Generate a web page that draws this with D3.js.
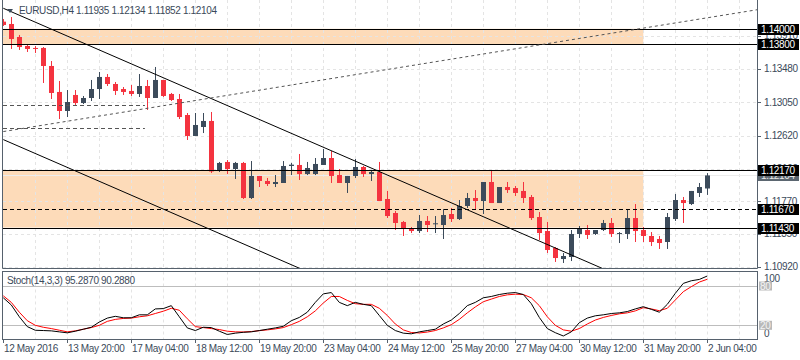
<!DOCTYPE html>
<html><head><meta charset="utf-8">
<script src="https://cdn.jsdelivr.net/npm/d3@7"></script>
<style>
body{margin:0;background:#fff}
svg{display:block}
text{font-family:"Liberation Sans",Arial,sans-serif;font-size:10px;letter-spacing:-0.35px}
</style>
</head><body><svg id="c" width="800" height="360"></svg>
<script>
// ---------------- data ----------------
const symbolTitle = "EURUSD,H4";
const opens = [1.14092,1.14062,1.13894,1.13777,1.13752,1.13752,1.13519,1.13183,1.12937,1.13144,
1.13040,1.13105,1.13221,1.13377,1.13286,1.13221,1.13196,1.13157,1.13260,1.13105,
1.13338,1.13157,1.13092,1.12885,1.12614,1.12730,1.12808,1.12161,1.12278,1.12187,
1.12265,1.11812,1.12097,1.12032,1.11993,1.12006,1.12226,1.12239,1.12122,1.12122,
1.12239,1.12329,1.12109,1.12006,1.12097,1.12213,1.12122,1.12148,1.11799,1.11618,
1.11502,1.11411,1.11385,1.11515,1.11476,1.11463,1.11605,1.11540,1.11709,1.11812,
1.11773,1.12019,1.11747,1.11954,1.11941,1.11903,1.11825,1.11566,1.11385,1.11166,
1.11023,1.11049,1.11347,1.11398,1.11347,1.11398,1.11489,1.11347,1.11347,1.11553,
1.11398,1.11321,1.11282,1.11243,1.11540,1.11786,1.11734,1.11877,1.11935];
const highs = [1.14126,1.14152,1.13920,1.13790,1.13777,1.13764,1.13583,1.13325,1.13208,1.13208,
1.13131,1.13338,1.13441,1.13415,1.13312,1.13247,1.13273,1.13415,1.13338,1.13506,
1.13338,1.13170,1.13157,1.12911,1.12911,1.12911,1.12924,1.12278,1.12303,1.12278,
1.12278,1.12290,1.12097,1.12071,1.12109,1.12290,1.12265,1.12381,1.12278,1.12329,
1.12446,1.12420,1.12187,1.12097,1.12316,1.12226,1.12161,1.12278,1.11903,1.11644,
1.11515,1.11437,1.11592,1.11579,1.11579,1.11670,1.11683,1.11786,1.11877,1.11915,
1.12019,1.12174,1.11954,1.12019,1.11967,1.12019,1.11851,1.11631,1.11502,1.11178,
1.11101,1.11398,1.11450,1.11463,1.11398,1.11528,1.11553,1.11372,1.11657,1.11734,
1.11437,1.11372,1.11321,1.11618,1.11864,1.11825,1.11903,1.12006,1.12134];
const lows = [1.14036,1.13739,1.13726,1.13700,1.13687,1.13299,1.13092,1.12833,1.12859,1.13015,
1.13027,1.13066,1.13092,1.13260,1.13144,1.13144,1.13131,1.13118,1.12950,1.13105,
1.13118,1.13066,1.12833,1.12562,1.12614,1.12652,1.12135,1.12148,1.12122,1.12058,
1.11799,1.11799,1.11954,1.11967,1.11954,1.12006,1.12109,1.12045,1.12109,1.12109,
1.12239,1.12006,1.12006,1.11877,1.12071,1.12084,1.12032,1.11773,1.11553,1.11398,
1.11321,1.11359,1.11359,1.11372,1.11359,1.11282,1.11502,1.11528,1.11683,1.11657,
1.11605,1.11747,1.11747,1.11877,1.11838,1.11747,1.11528,1.11269,1.11101,1.10985,
1.10972,1.10997,1.11295,1.11282,1.11334,1.11385,1.11308,1.11230,1.11282,1.11243,
1.11243,1.11191,1.11153,1.11153,1.11515,1.11489,1.11721,1.11825,1.11852];
const closes = [1.14049,1.13868,1.13764,1.13739,1.13745,1.13519,1.13170,1.12937,1.13053,1.13040,
1.13105,1.13221,1.13377,1.13286,1.13196,1.13183,1.13157,1.13260,1.13105,1.13338,
1.13131,1.13079,1.12859,1.12614,1.12756,1.12808,1.12155,1.12265,1.12187,1.12265,
1.11812,1.12097,1.12032,1.11993,1.12019,1.12226,1.12243,1.12122,1.12200,1.12252,
1.12329,1.12097,1.12006,1.12097,1.12213,1.12122,1.12148,1.11773,1.11579,1.11489,
1.11411,1.11385,1.11515,1.11463,1.11485,1.11592,1.11540,1.11709,1.11812,1.11773,
1.12019,1.11747,1.11954,1.11915,1.11877,1.11812,1.11553,1.11359,1.11140,1.11036,
1.11062,1.11347,1.11411,1.11334,1.11398,1.11489,1.11347,1.11359,1.11553,1.11385,
1.11321,1.11243,1.11230,1.11566,1.11786,1.11747,1.11903,1.11954,1.12104];
const stochK = [62,51,33,18,12.4,12,11.5,10,8.5,11,
14,17,25,31,33.7,31.5,31.5,36,36,45,
45.5,50,33,16,12,17,16.5,11,6,8,
9.3,10,12,14,16,18.5,27,32,40,55,
68,70,55,50,55,52,50,35,20,12,
8,7,10,12,14,22,28,38,50,55,
62,64,67,69,70,67,53,32,15,8.7,
3.7,10,24,31,34.5,36,38,39,41,45,
48.4,44.4,40,52,68.8,84,88,90,95.287];
const stochD = [65,55,40,27,20,17,15,12.5,10,11.5,
14,16.5,20,26,29,30.5,31,33,34.5,38,
41.5,46,43,30,18,16.5,15,13.5,11,10,
9.8,10.5,11.8,13,14.5,16.5,21,26,33,42,
54,64,64,58,53,52,52,46,35,22,
13,9,8.3,9.7,12,16,21,29,39,48,
56,60,64,66.5,67.5,67,62,50,33,20,
13,11,15,22,28,32,35,37.5,39,42,
46.9,45,42.3,46,58.6,71.3,79,86,90.288];
const xTickLabels = ["12 May 2016","13 May 20:00","17 May 04:00","18 May 12:00","19 May 20:00","23 May 04:00","24 May 12:00","25 May 20:00","27 May 04:00","30 May 12:00","31 May 20:00","2 Jun 04:00"];
const xTickBars = [0,8,16,24,32,40,48,56,64,72,80,88];
const priceTicks = [1.13910,1.13480,1.13050,1.12620,1.12190,1.11770,1.11350,1.10920];
const zoneTops = [1.14000,1.12170];
const zoneBottoms = [1.13800,1.11430];
const zoneEndBar = 80;
const midLevel = 1.11670;
const bidPrice = 1.12104;
const stochLevels = [80,20];
const stochEdgeLabels = [100,0];
// trend lines as [bar, price] anchors
const channelUpper = [[0,1.14265],[69.375,1.11149]];
const channelLower = [[0,1.12567],[69.375,1.09450]];
const risingLine = [[0,1.12671],[88,1.14142]];
const shortLevels = [1.13015,1.12717];
const shortLevelEndBar = 17.7;

// ---------------- layout ----------------
const L = 3, R = 757, mainTop = 0, mainBot = 268, stTop = 271.5, stBot = 339;
const svg = d3.select("#c");
const x = d3.scaleLinear().domain([0, 88]).range([3.3, 707.3]);
const y = d3.scaleLinear().domain([1.10907, 1.14372]).range([mainBot, mainTop]);
const ys = d3.scaleLinear().domain([0, 100]).range([338.4, 272.9]);
const bull = "#3c4b5b", bear = "#f4333f", fillZone = "#fddbb9", gridC = "#e4e4e4", axisC = "#56616d", txtC = "#3b4a5a";

const defs = svg.append("defs");
defs.append("clipPath").attr("id","cm").append("rect").attr("x",L).attr("y",mainTop).attr("width",R-L).attr("height",mainBot-mainTop);
defs.append("clipPath").attr("id","cs").append("rect").attr("x",L).attr("y",stTop).attr("width",R-L).attr("height",stBot-stTop);

const gm = svg.append("g").attr("clip-path","url(#cm)");
const gs = svg.append("g").attr("clip-path","url(#cs)");

// zones
zoneTops.forEach((t,i)=>{
  gm.append("rect").attr("x",L).attr("width",x(zoneEndBar)-L)
    .attr("y",y(t)).attr("height",y(zoneBottoms[i])-y(t)).attr("fill",fillZone);
});

// grid
const vBars = d3.range(4, 94, 4);
const sn = v => Math.round(v)+0.5;
gm.selectAll(".hg").data(priceTicks).enter().append("line")
  .attr("x1",L).attr("x2",R).attr("y1",d=>sn(y(d))).attr("y2",d=>sn(y(d)))
  .attr("stroke",gridC).attr("stroke-dasharray","3,3");
gm.selectAll(".vg").data(vBars).enter().append("line")
  .attr("x1",d=>sn(x(d))).attr("x2",d=>sn(x(d))).attr("y1",mainTop).attr("y2",mainBot)
  .attr("stroke",gridC).attr("stroke-dasharray","3,3");
gs.selectAll(".vg").data(vBars).enter().append("line")
  .attr("x1",d=>sn(x(d))).attr("x2",d=>sn(x(d))).attr("y1",stTop).attr("y2",stBot)
  .attr("stroke",gridC).attr("stroke-dasharray","3,3");

// bid line
gm.append("line").attr("x1",L).attr("x2",R).attr("y1",sn(y(bidPrice))).attr("y2",sn(y(bidPrice)))
  .attr("stroke","#ececec");

// candles
const idx = d3.range(opens.length);
const cg = gm.append("g");
cg.selectAll(".w").data(idx).enter().append("line")
  .attr("x1",i=>sn(x(i))).attr("x2",i=>sn(x(i)))
  .attr("y1",i=>y(highs[i])).attr("y2",i=>y(lows[i]))
  .attr("stroke",i=>closes[i]>=opens[i]?bull:bear);
cg.selectAll(".b").data(idx).enter().append("rect")
  .attr("x",i=>Math.round(x(i))-2).attr("width",5)
  .attr("y",i=>y(Math.max(opens[i],closes[i])))
  .attr("height",i=>Math.max(1,Math.abs(y(opens[i])-y(closes[i]))))
  .attr("fill",i=>closes[i]>=opens[i]?bull:bear);

// horizontal level lines
zoneTops.concat(zoneBottoms).forEach(p=>{
  gm.append("line").attr("x1",L).attr("x2",R).attr("y1",sn(y(p))).attr("y2",sn(y(p)))
    .attr("stroke","#000").attr("stroke-width",1);
});
gm.append("line").attr("x1",L).attr("x2",R).attr("y1",sn(y(midLevel))).attr("y2",sn(y(midLevel)))
  .attr("stroke","#000").attr("stroke-dasharray","4,3");
shortLevels.forEach(p=>{
  gm.append("line").attr("x1",L).attr("x2",x(shortLevelEndBar)).attr("y1",sn(y(p))).attr("y2",sn(y(p)))
    .attr("stroke","#555").attr("stroke-dasharray","4,3");
});

// trend lines (extended as rays)
function ray(pts, dash, col){
  const [a,b] = pts;
  const x1 = x(a[0]), y1 = y(a[1]), x2 = x(b[0]), y2 = y(b[1]);
  const s = (y2-y1)/(x2-x1);
  const xe = R;
  gm.append("line").attr("x1",x1).attr("y1",y1).attr("x2",xe).attr("y2",y1+s*(xe-x1))
    .attr("stroke",col).attr("stroke-width",1).attr("stroke-dasharray",dash);
}
ray(channelUpper,null,"#000");
ray(channelLower,null,"#000");
ray(risingLine,"3,3","#555");

// stochastic
stochLevels.forEach(v=>{
  gs.append("line").attr("x1",L).attr("x2",R).attr("y1",sn(ys(v))).attr("y2",sn(ys(v))).attr("stroke","#bdbdbd");
});
const ln = d3.line().x((d,i)=>x(i)).y(d=>ys(d));
gs.append("path").attr("d",ln(stochD)).attr("fill","none").attr("stroke","#ff0000").attr("stroke-width",1);
gs.append("path").attr("d",ln(stochK)).attr("fill","none").attr("stroke","#000").attr("stroke-width",1);

// frames
svg.append("path").attr("d",`M${L-0.5},${mainTop}V${mainBot+0.5}H${R+0.5}V${mainTop}`).attr("fill","none").attr("stroke",axisC);
svg.append("rect").attr("x",L-0.5).attr("y",stTop).attr("width",R-L+1).attr("height",stBot-stTop+0.5).attr("fill","none").attr("stroke",axisC);

// right price axis
const ax = svg.append("g");
ax.selectAll(".pt").data(priceTicks).enter().append("line")
  .attr("x1",R+1).attr("x2",R+4).attr("y1",d=>sn(y(d))).attr("y2",d=>sn(y(d))).attr("stroke",axisC);
ax.selectAll(".pl").data(priceTicks).enter().append("text")
  .attr("x",R+7).attr("y",d=>y(d)+3.5).attr("fill",txtC).text(d=>d.toFixed(5));
function box(p, bg, fg){
  const yy = y(p);
  ax.append("rect").attr("x",R+1).attr("y",Math.round(yy)-5).attr("width",41).attr("height",11).attr("fill",bg);
  ax.append("text").attr("x",R+4).attr("y",Math.round(yy)+4).attr("fill",fg).text(p.toFixed(5));
}
box(bidPrice,"#5b6670","#e8e8e8");
[zoneTops[0],zoneBottoms[0],zoneTops[1],midLevel,zoneBottoms[1]].forEach(p=>box(p,"#000","#fff"));

// stoch axis labels
stochEdgeLabels.forEach(v=>{
  svg.append("text").attr("x",R+7).attr("y",v===100?282:337).attr("fill",txtC).text(v);
});
stochLevels.forEach(v=>{
  svg.append("rect").attr("x",R+2).attr("y",ys(v)-4.5).attr("width",13).attr("height",9).attr("fill","#b9b9b9");
  svg.append("text").attr("x",R+3).attr("y",ys(v)+3.5).attr("fill","#f4f4f4").text(v);
});

// x axis
const xa = svg.append("g");
xa.selectAll(".xt").data(xTickBars).enter().append("line")
  .attr("x1",d=>sn(x(d))).attr("x2",d=>sn(x(d))).attr("y1",stBot).attr("y2",stBot+4).attr("stroke",axisC);
xa.selectAll(".xl").data(xTickLabels).enter().append("text")
  .attr("x",(d,i)=>Math.round(x(xTickBars[i]))+1).attr("y",352).attr("fill",txtC).text(d=>d);

// titles
svg.append("path").attr("d","M7,9 L13,9 L10,13 Z").attr("fill","#3b4a5a");
svg.append("text").attr("x",19).attr("y",14).attr("fill",txtC)
  .text(`${symbolTitle}  ${opens[88].toFixed(5)} ${highs[88].toFixed(5)} ${lows[88].toFixed(5)} ${closes[88].toFixed(5)}`);
svg.append("text").attr("x",7).attr("y",284).attr("fill",txtC)
  .text(`Stoch(14,3,3) ${stochK[88].toFixed(4)} ${stochD[88].toFixed(4)}`);
</script>
</body></html>
